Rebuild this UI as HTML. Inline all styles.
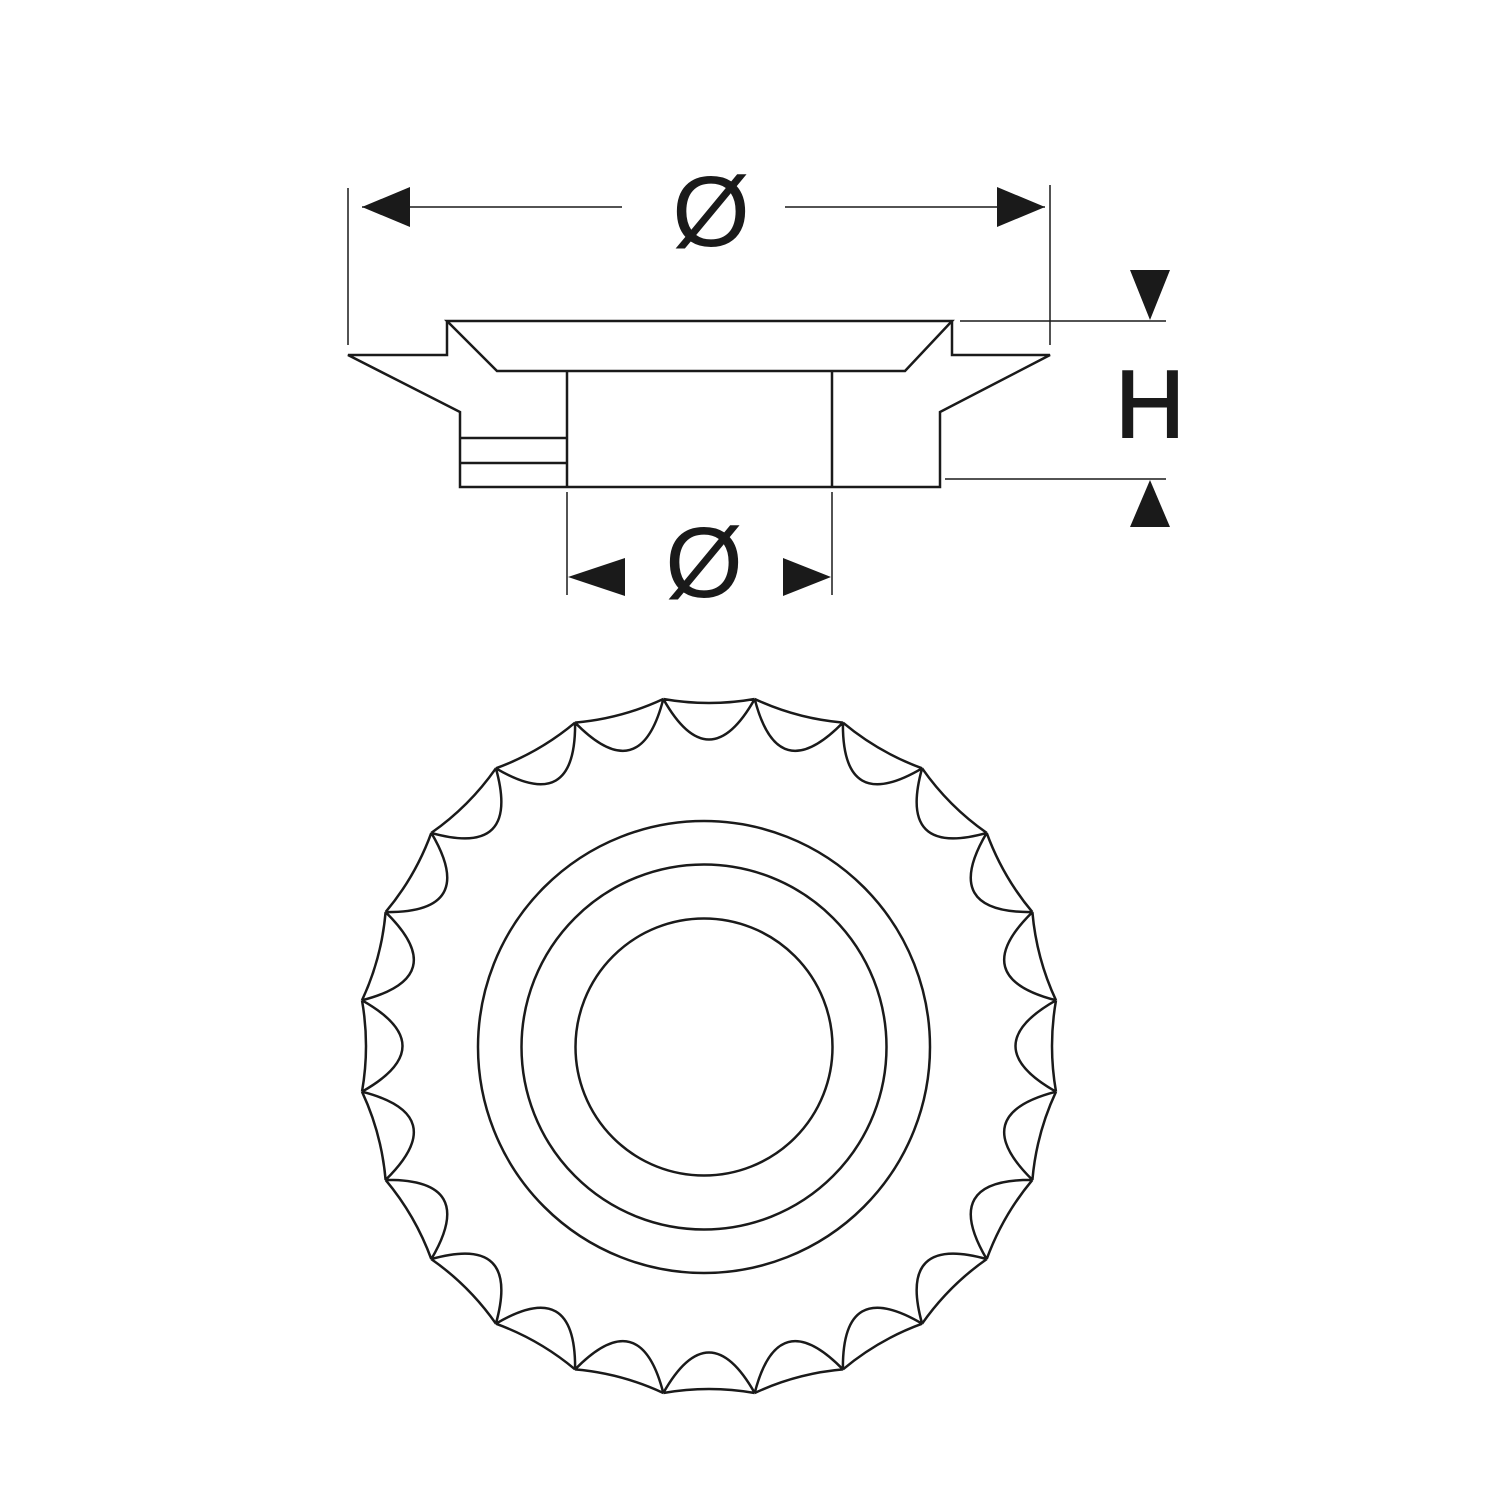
<!DOCTYPE html>
<html><head><meta charset="utf-8"><style>html,body{margin:0;padding:0;background:#fff}svg{display:block}</style></head>
<body>
<svg width="1500" height="1500" viewBox="0 0 1500 1500" xmlns="http://www.w3.org/2000/svg">
<g fill="none" stroke="#1a1a1a" stroke-width="2.5" stroke-linejoin="miter">
<path d="M447,321 L952,321 L905,371 L497,371 Z"/>
<path d="M447,321 L447,355 L348,355 L460,412 L460,487 L940,487 L940,412 L1050,355 L952,355 L952,321"/>
<path d="M567,371 L567,487 M832,371 L832,487 M460,438 L567,438 M460,463 L567,463"/>
</g>
<g stroke="#1a1a1a" stroke-width="1.5" fill="none">
<path d="M348,188 L348,345 M1050,185 L1050,345 M362,207 L622,207 M785,207 L1045,207"/>
<path d="M960,321 L1166,321 M945,479 L1166,479"/>
<path d="M567,492 L567,595 M832,492 L832,595"/>
</g>
<g fill="#1a1a1a">
<polygon points="362,207 410,187 410,227"/>
<polygon points="1045,207 997,187 997,227"/>
<polygon points="1150,320 1130,270 1170,270"/>
<polygon points="1150,480 1130,527 1170,527"/>
<polygon points="568,577 625,558 625,596"/>
<polygon points="831,577 783,558 783,596"/>
</g>
<g font-family="Liberation Sans, sans-serif" fill="#1a1a1a" text-anchor="middle">
<text x="711" y="246" font-size="100">Ø</text>
<text x="704" y="597" font-size="100">Ø</text>
<text x="1150" y="437" font-size="96" stroke="#1a1a1a" stroke-width="2">H</text>
</g>
<g fill="none" stroke="#1a1a1a" stroke-width="2.5">
<circle cx="704" cy="1047" r="226"/>
<circle cx="704" cy="1047" r="182.5"/>
<circle cx="704" cy="1047" r="128.5"/>
<path d="
M663.3,699 Q709,707 754.7,699 M663.3,699 Q709,780 754.7,699
M754.7,699 Q796.7,718.6 842.9,722.6 M754.7,699 Q777.8,789.1 842.9,722.6
M842.9,722.6 Q878.5,752.4 922.1,768.3 M842.9,722.6 Q842,815.6 922.1,768.3
M922.1,768.3 Q948.7,806.3 986.7,832.9 M922.1,768.3 Q897.1,857.9 986.7,832.9
M986.7,832.9 Q1002.6,876.5 1032.4,912.1 M986.7,832.9 Q939.4,913 1032.4,912.1
M1032.4,912.1 Q1036.4,958.3 1056,1000.3 M1032.4,912.1 Q965.9,977.2 1056,1000.3
M1056,1000.3 Q1048,1046 1056,1091.7 M1056,1000.3 Q975,1046 1056,1091.7
M1056,1091.7 Q1036.4,1133.7 1032.4,1179.9 M1056,1091.7 Q965.9,1114.8 1032.4,1179.9
M1032.4,1179.9 Q1002.6,1215.5 986.7,1259.1 M1032.4,1179.9 Q939.4,1179 986.7,1259.1
M986.7,1259.1 Q948.7,1285.7 922.1,1323.7 M986.7,1259.1 Q897.1,1234.1 922.1,1323.7
M922.1,1323.7 Q878.5,1339.6 842.9,1369.4 M922.1,1323.7 Q842,1276.4 842.9,1369.4
M842.9,1369.4 Q796.7,1373.4 754.7,1393 M842.9,1369.4 Q777.8,1302.9 754.7,1393
M754.7,1393 Q709,1385 663.3,1393 M754.7,1393 Q709,1312 663.3,1393
M663.3,1393 Q621.3,1373.4 575.1,1369.4 M663.3,1393 Q640.2,1302.9 575.1,1369.4
M575.1,1369.4 Q539.5,1339.6 495.9,1323.7 M575.1,1369.4 Q576,1276.4 495.9,1323.7
M495.9,1323.7 Q469.3,1285.7 431.3,1259.1 M495.9,1323.7 Q520.9,1234.1 431.3,1259.1
M431.3,1259.1 Q415.4,1215.5 385.6,1179.9 M431.3,1259.1 Q478.6,1179 385.6,1179.9
M385.6,1179.9 Q381.6,1133.7 362,1091.7 M385.6,1179.9 Q452.1,1114.8 362,1091.7
M362,1091.7 Q370,1046 362,1000.3 M362,1091.7 Q443,1046 362,1000.3
M362,1000.3 Q381.6,958.3 385.6,912.1 M362,1000.3 Q452.1,977.2 385.6,912.1
M385.6,912.1 Q415.4,876.5 431.3,832.9 M385.6,912.1 Q478.6,913 431.3,832.9
M431.3,832.9 Q469.3,806.3 495.9,768.3 M431.3,832.9 Q520.9,857.9 495.9,768.3
M495.9,768.3 Q539.5,752.4 575.1,722.6 M495.9,768.3 Q576,815.6 575.1,722.6
M575.1,722.6 Q621.3,718.6 663.3,699 M575.1,722.6 Q640.2,789.1 663.3,699
"/>
</g>
</svg>
</body></html>
